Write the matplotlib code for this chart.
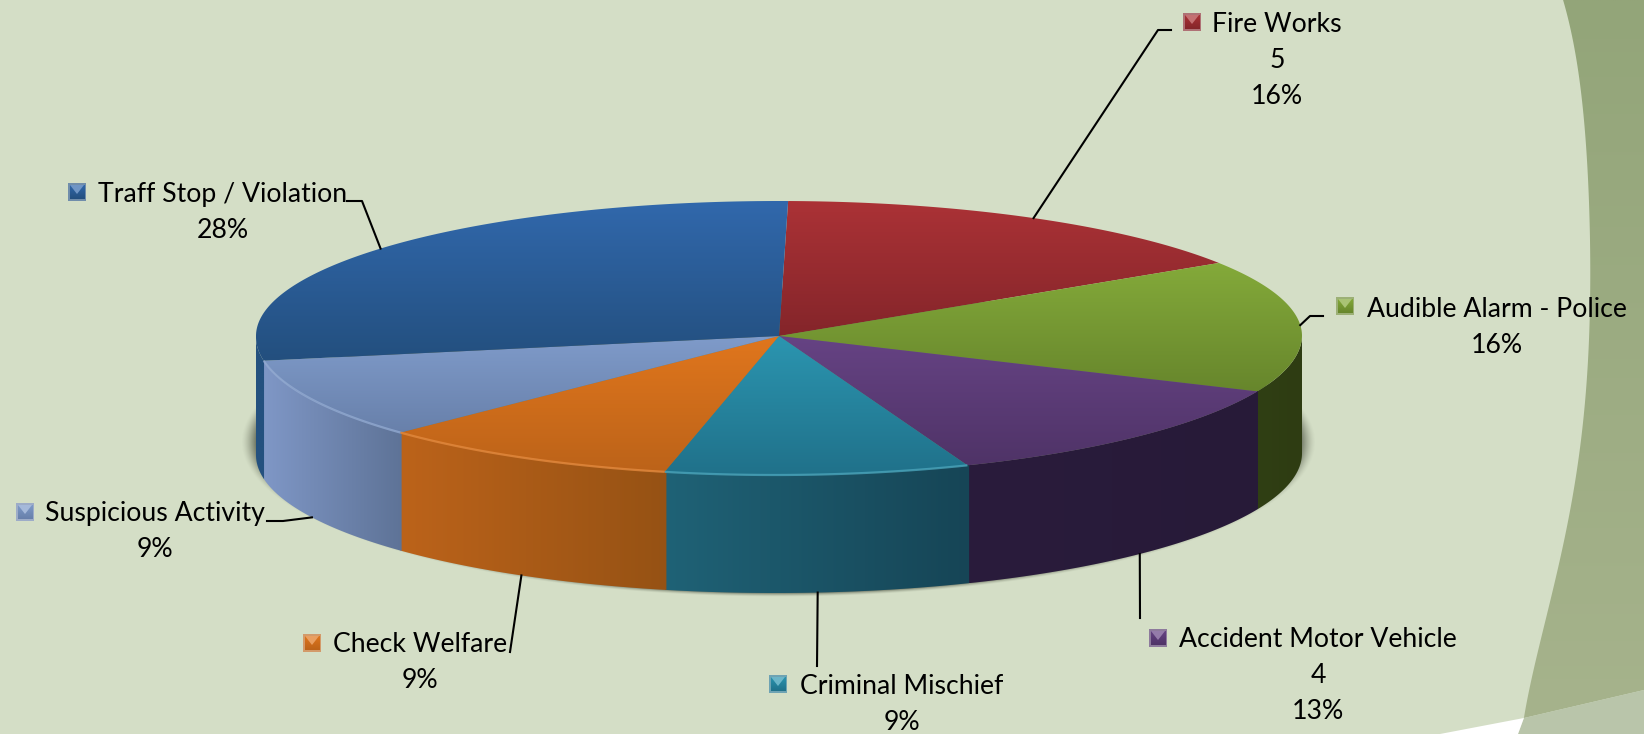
import numpy as np
import matplotlib
matplotlib.use('Agg')
import matplotlib.pyplot as plt
from matplotlib.colors import LinearSegmentedColormap, to_rgb
from matplotlib.patches import Polygon

# slices, clockwise from the top
categories = ['Fire Works', 'Audible Alarm - Police', 'Accident Motor Vehicle', 'Criminal Mischief',
              'Check Welfare', 'Suspicious Activity', 'Traff Stop / Violation']
counts = [5, 5, 4, 3, 3, 3, 9]
count_labels = ['5', None, '4', None, None, None, None]
percent_labels = ['16%', '16%', '13%', '9%', '9%', '9%', '28%']

# label layout, pixels (baseline of the first line)
label_x = [1277, 1497, 1318, 902, 420, 155, 223]
label_y = [32, 317, 647, 694, 652, 521, 202]
key_x = [1192, 1345, 1158, 778, 312, 25, 77]
key_y = [22, 306, 638, 684, 643, 512, 192]
leader_ends = [[(1158, 30), (1171, 30)], [(1310, 316), (1323, 316)], [(1140, 618)], [(817, 666)],
               [(510, 652)], [(283, 521), (267, 521)], [(362, 201), (347, 201)]]

# face colours, top face runs top to bottom, side runs left to right
top_colors = [('#ab3236', '#84252a'), ('#84aa3a', '#67862c'), ('#664384', '#4f3367'), ('#2b95b0', '#20718a'),
              ('#e0761d', '#bc6319'), ('#7f9bca', '#6880aa'), ('#3168ac', '#234f7e')]
side_colors = [('#6d1c1f', '#6d1c1f'), ('#303f14', '#2e3c12'), ('#2a1c3c', '#271a38'), ('#1f6276', '#164556'),
              ('#bc631a', '#965214'), ('#7f97c6', '#5e7397'), ('#24517f', '#24517f')]

cx, cy = 779, 336
a, b_back, b_front = 523, 135, 139
depth = 118
start_angle = 89

fig = plt.figure(figsize=(16.44, 7.34), dpi=100)
ax = fig.add_axes([0, 0, 1, 1])
ax.set_xlim(0, 1644)
ax.set_ylim(734, 0)
ax.axis('off')
fig.patch.set_facecolor('#d4dec6')


def gradient_fill(poly, colors, horizontal=False, zorder=3):
    xs, ys = poly[:, 0], poly[:, 1]
    cmap = LinearSegmentedColormap.from_list('g', colors)
    ramp = np.linspace(0, 1, 256)
    ramp = ramp.reshape(1, -1) if horizontal else ramp.reshape(-1, 1)
    im = ax.imshow(ramp, cmap=cmap, aspect='auto', zorder=zorder, vmin=0, vmax=1,
                   extent=(xs.min(), xs.max(), ys.max(), ys.min()), interpolation='bilinear')
    clip = Polygon(poly, closed=True, transform=ax.transData)
    im.set_clip_path(clip)


def rim(t, drop=0):
    t = np.radians(np.atleast_1d(t))
    s = np.sin(t)
    # the near half of the pie is a little deeper and leans left
    x = cx + a * np.cos(t) - 3.5 * np.clip(-s, 0, 1)
    y = cy - np.where(s > 0, b_back, b_front) * s + drop
    return np.column_stack([x, y])


def lighten(color, amount):
    return tuple(np.array(to_rgb(color)) * (1 - amount) + amount)


# page decoration on the right
edge_x = [1563, 1577, 1585, 1591, 1588, 1577, 1560, 1540, 1524]
edge_y = [0, 61, 140, 257, 351, 468, 562, 641, 718]
fit_y = np.linspace(0, 718, 120)
fit_x = np.polyval(np.polyfit(edge_y, edge_x, 5), fit_y)
edge = np.vstack([np.column_stack([fit_x, fit_y]), [(1644, 690), (1644, 0)]])
gradient_fill(edge, ('#93a579', '#a6b38c'), zorder=1)
ax.add_patch(Polygon([(fit_x[-1], 718), (1644, 690), (1644, 734), (1518, 734)], color='#b9c5aa', lw=0, zorder=1.2))
ax.add_patch(Polygon([(fit_x[-1], 718), (1518, 734), (1440, 734)], color='white', lw=0, zorder=1.2))

# soft shadow under the pie, fades faster top and bottom than at the sides
sx, sy = np.meshgrid(np.arange(200, 1340), np.arange(250, 640))
rad = np.hypot((sx + 0.5 - cx + 1) / (a + 14), (sy + 0.5 - (cy + depth - 12)) / 155)
shade = np.zeros(sx.shape + (4,))
shade[..., :3] = to_rgb('#3a4030')
shade[..., 3] = 0.65 * np.clip((1 - rad) / 0.028, 0, 1) ** 1.5
ax.imshow(shade, extent=(200, 1340, 640, 250), aspect='auto', zorder=2, interpolation='bilinear')

fractions = np.array(counts) / sum(counts)
edges = start_angle - np.concatenate([[0], np.cumsum(fractions)]) * 360
mids = (edges[:-1] + edges[1:]) / 2

# side walls, only the part below the centre line shows
for i in range(len(counts)):
    hi, lo = edges[i], edges[i + 1]
    t0 = min(hi + 0.2, 0)
    t1 = max(lo, -180)
    if t0 > t1:
        ts = np.linspace(t0, t1, 80)
        poly = np.vstack([rim(ts), rim(ts[::-1], depth)])
        gradient_fill(poly, side_colors[i], horizontal=True, zorder=3)

# top faces
for i in range(len(counts)):
    ts = np.linspace(edges[i], edges[i + 1], 120)
    poly = np.vstack([[(cx, cy)], rim(ts)])
    gradient_fill(poly, top_colors[i], zorder=4)
    # lighter bevel along the front rim
    if -180 < edges[i + 1] < -90:
        front = ts[ts > -180]
        ax.plot(*rim(front).T, color=lighten(top_colors[i][0], 0.14), lw=1.6, alpha=0.8, zorder=5,
                solid_capstyle='butt')

# leader lines start on the rim at the middle of each slice
for i in range(len(counts)):
    drop = depth if np.sin(np.radians(mids[i])) < -0.2 else 0
    pts = np.vstack([rim(mids[i], drop), leader_ends[i]])
    ax.plot(pts[:, 0], pts[:, 1], color='black', lw=1.5, zorder=6)

# labels and keys
for i, name in enumerate(categories):
    lines = [name] + ([count_labels[i]] if count_labels[i] else []) + [percent_labels[i]]
    for j, line in enumerate(lines):
        ax.text(label_x[i], label_y[i] + j * 36, line, ha='center', va='baseline', family='Lato',
                fontsize=19.2, color='black', zorder=7)
    kx, ky = key_x[i], key_y[i]
    s = 9
    box = np.array([(kx - s, ky - s), (kx + s, ky - s), (kx + s, ky + s), (kx - s, ky + s)])
    ax.add_patch(Polygon(box, color=lighten(top_colors[i][1], 0.35), lw=0, zorder=7))
    inner = np.array([(kx - s + 1.5, ky - s + 1.5), (kx + s - 1.5, ky - s + 1.5),
                      (kx + s - 1.5, ky + s - 1.5), (kx - s + 1.5, ky + s - 1.5)])
    gradient_fill(inner, (top_colors[i][0], top_colors[i][1]), zorder=8)
    ax.add_patch(Polygon([(kx - s + 2, ky - s + 2), (kx + s - 2, ky - s + 2), (kx, ky + 2)],
                         color=lighten(top_colors[i][0], 0.3), lw=0, zorder=9))

ax.set_xlim(0, 1644)
ax.set_ylim(734, 0)
fig.savefig('out.png', dpi=100, facecolor=fig.get_facecolor())
